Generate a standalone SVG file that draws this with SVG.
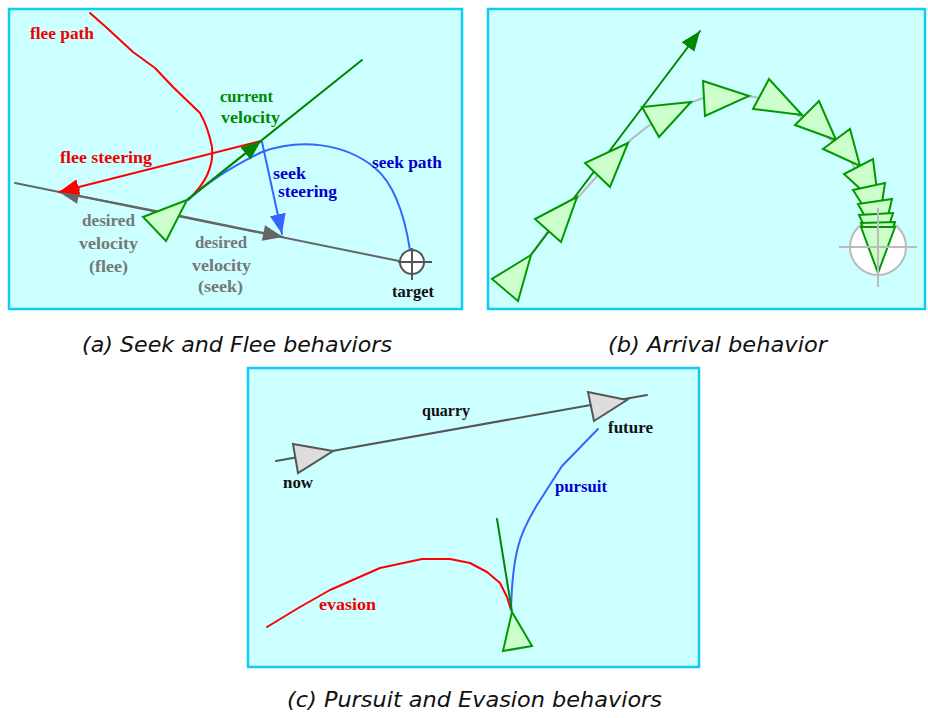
<svg xmlns="http://www.w3.org/2000/svg" width="928" height="718" viewBox="0 0 928 718">
<style>
.panel{fill:#ccffff;stroke:#11ccf2;stroke-width:2.5}
.lbl{font-family:"Liberation Serif","Times New Roman",serif;font-size:16.5px;font-weight:bold}
.cap{font-family:"DejaVu Sans","Liberation Sans",sans-serif;font-size:21px;font-style:oblique;fill:#111}
.red{fill:#ee0000}.grn{fill:#008800}.blu{fill:#0000cc}.gry{fill:#777777}.blk{fill:#111111}
.veh{fill:#ccffcc;stroke:#009900;stroke-width:2;stroke-linejoin:miter}
.qry{fill:#dddddd;stroke:#555555;stroke-width:2}
.ln{fill:none;stroke-width:2;stroke-linecap:round;stroke-linejoin:round}
</style>
<defs>
<marker id="ahG" viewBox="0 0 20 16" refX="20" refY="8" markerWidth="20" markerHeight="16" markerUnits="userSpaceOnUse" orient="auto"><path d="M0,0 L20,8 L0,16 z" fill="#008800"/></marker>
<marker id="ahR" viewBox="0 0 20 16" refX="20" refY="8" markerWidth="20" markerHeight="16" markerUnits="userSpaceOnUse" orient="auto"><path d="M0,0 L20,8 L0,16 z" fill="#ff0000"/></marker>
<marker id="ahB" viewBox="0 0 20 16" refX="20" refY="8" markerWidth="20" markerHeight="16" markerUnits="userSpaceOnUse" orient="auto"><path d="M0,0 L20,8 L0,16 z" fill="#3366ff"/></marker>
<marker id="ahK" viewBox="0 0 20 16" refX="20" refY="8" markerWidth="22" markerHeight="16" markerUnits="userSpaceOnUse" orient="auto"><path d="M0,0 L20,8 L0,16 z" fill="#666666"/></marker>
</defs>

<!-- Panel (a) -->
<g id="panel-a">
<rect class="panel" x="9" y="9" width="453" height="300"/>
</g>
<g id="connectors-a">
<line class="ln" x1="15" y1="183" x2="404" y2="262" stroke="#666666" stroke-width="2.5"/>
<line class="ln" x1="166" y1="213" x2="59" y2="192" stroke="#666666" stroke-width="2.5" marker-end="url(#ahK)"/>
<line class="ln" x1="166" y1="213" x2="283" y2="237" stroke="#666666" stroke-width="2.5" marker-end="url(#ahK)"/>
<path class="ln" d="M90,13 L107,28 L133,52 L155,68 L173,87 L200,113 Q208,127 212,147 Q215,175 188,200" stroke="#ff0000"/>
<path class="ln" d="M188,200 C210,180 235,165 262,152 C300,138 345,143 375,168 C392,182 404,212 410,250" stroke="#3366ff"/>
<line class="ln" x1="261" y1="141" x2="59" y2="192" stroke="#ff0000" marker-end="url(#ahR)"/>
<line class="ln" x1="262" y1="142" x2="282" y2="234" stroke="#3366ff" marker-end="url(#ahB)"/>
<line class="ln" x1="187" y1="200" x2="362" y2="60" stroke="#008800"/>
<line class="ln" x1="187" y1="200" x2="261" y2="141" stroke="#008800" marker-end="url(#ahG)"/>
</g>
<g id="vehicle-a">
<polygon class="veh" points="187,200 143,217 166,241"/>
</g>
<g id="target-a">
<circle cx="412" cy="262" r="12" fill="#ffffff" stroke="#555555" stroke-width="2"/>
<line x1="398" y1="262" x2="432" y2="262" stroke="#555555" stroke-width="2"/>
<line x1="412" y1="248" x2="412" y2="280" stroke="#555555" stroke-width="2"/>
</g>
<g id="labels-a">
<text class="lbl red" x="30" y="39" textLength="64" lengthAdjust="spacingAndGlyphs">flee path</text>
<text class="lbl grn" x="220" y="102" textLength="53" lengthAdjust="spacingAndGlyphs">current</text>
<text class="lbl grn" x="221" y="123" textLength="59" lengthAdjust="spacingAndGlyphs">velocity</text>
<text class="lbl red" x="60" y="163" textLength="92" lengthAdjust="spacingAndGlyphs">flee steering</text>
<text class="lbl blu" x="273" y="179" textLength="33" lengthAdjust="spacingAndGlyphs">seek</text>
<text class="lbl blu" x="278" y="197" textLength="59" lengthAdjust="spacingAndGlyphs">steering</text>
<text class="lbl blu" x="372" y="168" textLength="70" lengthAdjust="spacingAndGlyphs">seek path</text>
<text class="lbl gry" x="82" y="226" textLength="53" lengthAdjust="spacingAndGlyphs">desired</text>
<text class="lbl gry" x="79" y="249" textLength="59" lengthAdjust="spacingAndGlyphs">velocity</text>
<text class="lbl gry" x="89" y="272" textLength="39" lengthAdjust="spacingAndGlyphs">(flee)</text>
<text class="lbl gry" x="195" y="248" textLength="52" lengthAdjust="spacingAndGlyphs">desired</text>
<text class="lbl gry" x="192" y="271" textLength="59" lengthAdjust="spacingAndGlyphs">velocity</text>
<text class="lbl gry" x="198" y="292" textLength="45" lengthAdjust="spacingAndGlyphs">(seek)</text>
<text class="lbl blk" x="392" y="297" textLength="42" lengthAdjust="spacingAndGlyphs">target</text>
</g>

<!-- Panel (b) -->
<g id="panel-b">
<rect class="panel" x="488" y="9" width="437" height="300"/>
</g>
<g id="connectors-b">
<path class="ln" d="M505,290 L548,231 L598,175 Q640,120 703,98 Q760,90 790,110 Q830,135 850,160 Q875,200 878,250" stroke="#bbbbbb" stroke-width="2.5"/>
</g>
<g id="target-b-circle">
<circle cx="878" cy="247" r="28" fill="#ffffff" stroke="#bbbbbb" stroke-width="2"/>
</g>
<g id="velocity-b">
<line class="ln" x1="531" y1="255" x2="700" y2="31" stroke="#008800" marker-end="url(#ahG)"/>
</g>
<g id="vehicles-b">
<polygon class="veh" points="531,255 492,279 518,301"/>
<polygon class="veh" points="577,197 535,219 561,242"/>
<polygon class="veh" points="628,143 585,163 610,187"/>
<polygon class="veh" points="691,102 642,107 659,137"/>
<polygon class="veh" points="749,96 703,81 705,116"/>
<polygon class="veh" points="802,115 769,79 753,109"/>
<polygon class="veh" points="836,140 819,101 795,125"/>
<polygon class="veh" points="860,166 850,129 823,149"/>
<polygon class="veh" points="879,206 844,174 873,159"/>
<polygon class="veh" points="878,229 853,190 885,183"/>
<polygon class="veh" points="881,245 858,204 892,199"/>
<polygon class="veh" points="879,258 859,215 893,213"/>
<polygon class="veh" points="879,266 861,223 895,222"/>
<polygon class="veh" points="878,273 861,227 895,227"/>
</g>
<g id="target-b-cross">
<line x1="839" y1="247" x2="917" y2="247" stroke="#bbbbbb" stroke-width="2"/>
<line x1="878" y1="208" x2="878" y2="287" stroke="#bbbbbb" stroke-width="2"/>
</g>

<!-- Panel (c) -->
<g id="panel-c">
<rect class="panel" x="248" y="368" width="451" height="299"/>
</g>
<g id="connectors-c">
<line class="ln" x1="276" y1="461" x2="647" y2="395" stroke="#555555"/>
<path class="ln" d="M267,627 L300,607 L330,590 L380,568 L422,559 L450,559 L470,563 L487,572 L500,583 L507,597 L511,610" stroke="#ff0000"/>
<path class="ln" d="M598,429 L562,466 L537,505 Q522,530 518,547 Q512,570 511,610" stroke="#3366ff"/>
<line class="ln" x1="497" y1="519" x2="512" y2="612" stroke="#008800"/>
</g>
<g id="quarry-now">
<polygon class="qry" points="333,451 293,444 298,473"/>
</g>
<g id="quarry-future">
<polygon class="qry" points="627,400 588,392 594,421"/>
</g>
<g id="pursuer">
<polygon class="veh" points="512,612 532,646 503,651"/>
</g>
<g id="labels-c">
<text class="lbl blk" x="422" y="416" textLength="48" lengthAdjust="spacingAndGlyphs">quarry</text>
<text class="lbl blk" x="283" y="488" textLength="30" lengthAdjust="spacingAndGlyphs">now</text>
<text class="lbl blk" x="608" y="433" textLength="45" lengthAdjust="spacingAndGlyphs">future</text>
<text class="lbl blu" x="555" y="492" textLength="52" lengthAdjust="spacingAndGlyphs">pursuit</text>
<text class="lbl red" x="319" y="610" textLength="57" lengthAdjust="spacingAndGlyphs">evasion</text>
</g>

<!-- Captions -->
<g id="captions">
<text class="cap" x="82" y="352" textLength="310" lengthAdjust="spacingAndGlyphs">(a) Seek and Flee behaviors</text>
<text class="cap" x="608" y="352" textLength="219" lengthAdjust="spacingAndGlyphs">(b) Arrival behavior</text>
<text class="cap" x="287" y="707" textLength="375" lengthAdjust="spacingAndGlyphs">(c) Pursuit and Evasion behaviors</text>
</g>
</svg>
